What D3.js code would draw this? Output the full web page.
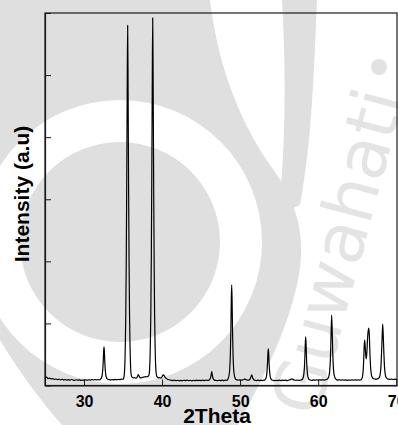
<!DOCTYPE html>
<html>
<head>
<meta charset="utf-8">
<script src="https://cdn.jsdelivr.net/npm/d3@7/dist/d3.min.js"></script>
<style>
  html, body { margin: 0; padding: 0; background: #ffffff; }
  svg { display: block; font-family: "Liberation Sans", Arial, sans-serif; }
</style>
</head>
<body>
<svg id="chart" width="398" height="425"></svg>
<script>
// X-ray diffraction scan: [2θ (degrees), intensity (counts)]
const scan = [
  [25.0,118],[25.2,135],[25.4,112],[25.6,120],[25.8,105],[26.0,110],[26.2,98],[26.4,104],
  [26.6,95],[26.8,101],[27.0,92],[27.2,99],[27.4,90],[27.6,96],[27.8,88],[28.0,94],
  [28.2,86],[28.4,97],[28.6,89],[28.8,84],[29.0,93],[29.2,85],[29.4,90],[29.6,82],
  [29.8,88],[30.0,84],[30.2,91],[30.4,86],[30.6,93],[30.8,88],[31.0,95],[31.2,89],
  [31.4,96],[31.6,90],[31.8,94],[32.0,92],
  [32.11,103],[32.21,118],[32.31,156],[32.39,240],[32.46,383],[32.51,543],[32.56,622],
  [32.61,543],[32.66,383],[32.73,240],[32.81,156],[32.91,118],[33.01,103],
  [33.2,95],[33.4,90],[33.6,96],[33.8,91],[34.0,98],[34.2,92],[34.4,99],[34.6,95],
  [34.8,102],[34.99,100],
  [35.09,120],[35.17,190],[35.24,380],[35.29,650],[35.35,1150],[35.41,2000],[35.47,3200],
  [35.53,4700],[35.59,5800],[35.65,4700],[35.71,3200],[35.77,2000],[35.83,1150],
  [35.89,660],[35.94,400],[36.01,210],[36.09,150],[36.19,130],
  [36.3,122],[36.45,128],[36.6,118],[36.75,126],[36.85,145],[36.95,175],[37.05,155],
  [37.15,130],[37.3,122],[37.45,128],[37.6,134],[37.75,138],[37.9,142],[38.05,140],
  [38.2,148],[38.3,162],[38.38,220],[38.45,410],[38.50,680],[38.56,1180],[38.62,2050],
  [38.68,3300],[38.74,4800],[38.80,5920],[38.86,4800],[38.92,3300],[38.98,2050],
  [39.04,1180],[39.10,680],[39.15,420],[39.22,230],[39.30,160],[39.40,135],
  [39.55,122],[39.7,128],[39.85,120],[40.0,140],[40.1,165],[40.2,172],[40.3,150],
  [40.42,125],[40.55,112],[40.7,100],[40.85,95],[41.0,88],[41.2,84],[41.4,80],[41.6,86],
  [41.8,78],[42.0,83],[42.2,76],[42.4,82],[42.6,77],[42.8,84],[43.0,79],[43.2,85],
  [43.4,78],[43.6,83],[43.8,76],[44.0,82],[44.2,78],[44.4,86],[44.6,80],[44.8,84],
  [45.0,79],[45.2,85],[45.4,80],[45.6,86],[45.8,82],[46.0,87],
  [46.11,97],[46.21,125],[46.29,175],[46.36,222],[46.43,175],[46.51,125],[46.61,97],
  [46.71,87],[46.9,82],[47.1,78],[47.3,84],[47.5,79],[47.7,85],[47.9,80],[48.1,86],
  [48.3,83],[48.47,113],
  [48.57,159],[48.67,267],[48.75,513],[48.82,929],[48.87,1391],[48.92,1622],[48.97,1391],
  [49.02,929],[49.09,513],[49.17,267],[49.27,159],[49.37,113],
  [49.5,95],[49.7,86],[49.9,90],[50.1,84],[50.3,91],[50.5,98],[50.6,108],[50.7,96],
  [50.9,88],[51.05,86],[51.18,90],[51.33,115],[51.48,172],[51.63,115],[51.78,90],
  [51.95,84],[52.1,80],[52.3,86],[52.5,79],[52.7,84],[52.9,80],[53.05,86],[53.16,90],
  [53.26,106],[53.36,141],[53.44,223],[53.51,361],[53.56,514],[53.61,590],[53.66,514],
  [53.71,361],[53.78,223],[53.86,141],[53.96,106],[54.06,90],
  [54.25,83],[54.45,78],[54.65,84],[54.85,79],[55.05,85],[55.25,80],[55.45,86],
  [55.65,81],[55.85,85],[56.05,80],[56.25,88],[56.45,95],[56.6,108],[56.75,98],
  [56.95,88],[57.15,83],[57.35,87],[57.55,82],[57.75,86],[57.95,96],
  [58.05,117],[58.15,166],[58.23,278],[58.30,467],[58.35,677],[58.40,782],[58.45,677],
  [58.50,467],[58.57,278],[58.65,166],[58.75,117],[58.85,96],
  [59.0,88],[59.2,84],[59.4,90],[59.6,85],[59.8,91],[60.0,86],[60.2,92],[60.4,87],
  [60.6,93],[60.8,88],[61.0,94],[61.15,100],[61.25,115],
  [61.35,140],[61.45,200],[61.53,330],[61.60,560],[61.66,860],[61.73,1135],[61.80,860],
  [61.86,560],[61.93,330],[62.01,200],[62.11,140],[62.21,112],
  [62.35,95],[62.55,88],[62.75,92],[62.95,86],[63.15,91],[63.35,85],[63.55,90],
  [63.75,84],[63.95,89],[64.15,85],[64.35,91],[64.55,86],[64.75,92],[64.95,87],
  [65.15,90],[65.3,86],
  [65.40,88],[65.55,100],[65.65,130],[65.75,220],[65.83,400],[65.90,640],[65.96,733],
  [66.03,620],[66.10,480],[66.17,430],[66.25,560],[66.33,760],[66.41,880],[66.48,926],
  [66.55,830],[66.62,560],[66.70,330],[66.80,190],[66.90,140],[67.00,118],[67.15,108],
  [67.3,104],[67.45,100],[67.55,106],
  [67.67,110],[67.82,128],[67.94,175],[68.04,300],[68.12,520],[68.20,800],[68.27,990],
  [68.34,800],[68.42,520],[68.50,300],[68.60,175],[68.72,128],[68.87,110],
  [69.0,103],[69.2,98],[69.4,104],[69.6,97],[69.8,102],[70.0,98],[70.1,100]
];

const xTicks = [30, 40, 50, 60, 70];
const yTicks = [0, 1000, 2000, 3000, 4000, 5000, 6000];
const xTitle = "2Theta";
const yTitle = "Intensity (a.u)";

const svg = d3.select("#chart");
const plot = { left: 45, right: 397, top: 13, bottom: 385.5 };

// ---- background emblem (light grey) ----
const grey = "#dfdfdf";
const wm = svg.append("g").attr("stroke", "none");
// outer swoosh: large grey body, then a white gap ring, then the central disc
wm.append("path").attr("fill", grey).attr("d",
  "M0,0 L210,0 C216,50 232,110 270,165 C300,205 306,240 298,280 " +
  "C288,330 262,380 238,425 L62,425 C40,400 18,370 0,340 Z");
wm.append("circle").attr("cx", 120).attr("cy", 242).attr("r", 142).attr("fill", "#ffffff");
wm.append("circle").attr("cx", 120).attr("cy", 242).attr("r", 100).attr("fill", grey);
// right-hand stroke of the emblem
wm.append("path").attr("fill", grey).attr("d",
  "M282,0 L317,0 C314,70 312,140 300,205 L278,215 C286,150 286,70 282,0 Z");
// lettering along the right edge
svg.append("text")
  .attr("transform", "translate(404,97) rotate(-75)")
  .attr("text-anchor", "end")
  .attr("font-family", "'DejaVu Sans', sans-serif")
  .attr("font-size", 70)
  .attr("fill", "#e4e4e4")
  .text("Guwahati");
wm.append("circle").attr("cx", 379).attr("cy", 67).attr("r", 8).attr("fill", "#e2e2e2");

// ---- scales ----
const x = d3.scaleLinear().domain([25, 70.1]).range([plot.left, plot.right]);
const y = d3.scaleLinear().domain([0, 6000]).range([plot.bottom, plot.top]);

// ---- frame ----
svg.append("rect")
  .attr("x", plot.left).attr("y", plot.top)
  .attr("width", plot.right - plot.left).attr("height", plot.bottom - plot.top)
  .attr("fill", "none").attr("stroke", "#1a1a1a").attr("stroke-width", 1.2);

// ---- axes (inward ticks) ----
const xAxis = svg.append("g")
  .attr("transform", `translate(0,${plot.bottom})`)
  .call(d3.axisBottom(x).tickValues(xTicks).tickSizeInner(-6).tickSizeOuter(0).tickPadding(10));
xAxis.select(".domain").attr("stroke", "#1a1a1a").attr("stroke-width", 1.2);
xAxis.selectAll(".tick line").attr("stroke", "#1a1a1a").attr("stroke-width", 1);
xAxis.selectAll(".tick text")
  .attr("font-family", "'Liberation Sans', Arial, sans-serif")
  .attr("font-size", 16).attr("font-weight", "bold").attr("fill", "#000");

const yAxis = svg.append("g")
  .attr("transform", `translate(${plot.left},0)`)
  .call(d3.axisLeft(y).tickValues(yTicks).tickSizeInner(-6).tickSizeOuter(0).tickFormat(""));
yAxis.select(".domain").attr("stroke", "#1a1a1a").attr("stroke-width", 1.2);
yAxis.selectAll(".tick line").attr("stroke", "#1a1a1a").attr("stroke-width", 1);

// ---- diffraction pattern ----
svg.append("clipPath").attr("id", "plotClip")
  .append("rect")
  .attr("x", plot.left).attr("y", plot.top)
  .attr("width", plot.right - plot.left).attr("height", plot.bottom - plot.top);

const line = d3.line()
  .x(d => x(d[0]))
  .y(d => y(d[1]))
  .curve(d3.curveMonotoneX);

svg.append("path")
  .datum(scan)
  .attr("clip-path", "url(#plotClip)")
  .attr("d", line)
  .attr("fill", "none")
  .attr("stroke", "#000")
  .attr("stroke-width", 1.2)
  .attr("stroke-linejoin", "round");

// ---- axis titles ----
svg.append("text")
  .attr("x", 217).attr("y", 423)
  .attr("text-anchor", "middle")
  .attr("font-size", 21).attr("font-weight", "bold").attr("fill", "#000")
  .text(xTitle);

svg.append("text")
  .attr("transform", "translate(29,194) rotate(-90)")
  .attr("text-anchor", "middle")
  .attr("font-size", 21).attr("font-weight", "bold").attr("fill", "#000")
  .text(yTitle);
</script>
</body>
</html>
